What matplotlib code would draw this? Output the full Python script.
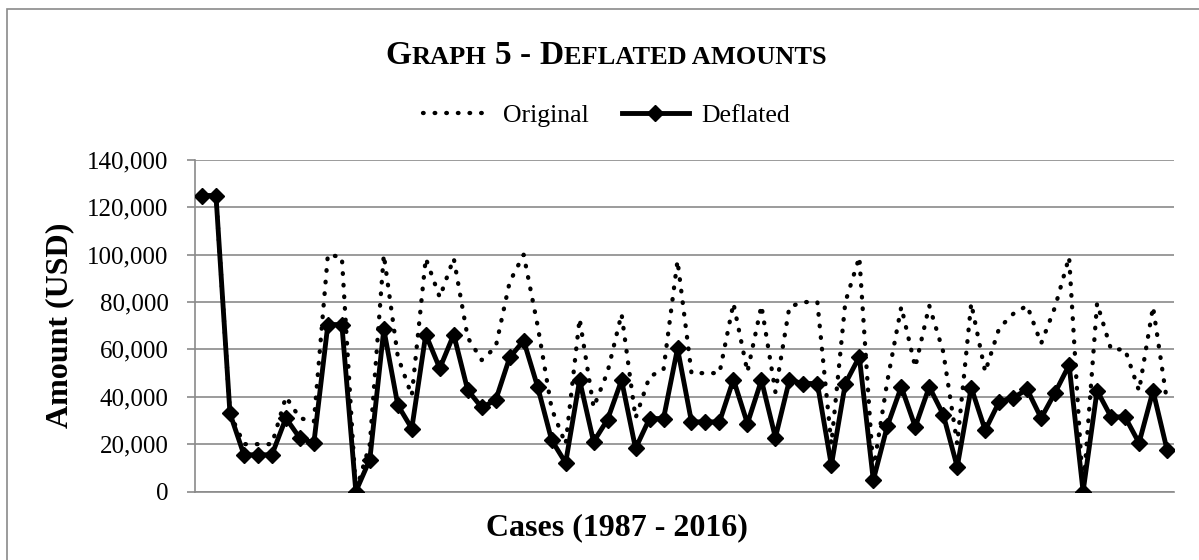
import matplotlib.pyplot as plt
from matplotlib.lines import Line2D
from matplotlib.patches import Rectangle
from matplotlib.ticker import FuncFormatter

# values (70 cases, 1987 - 2016)
original = [125000, 125000, 33000, 20000, 20000, 20000, 40000, 31000, 29500, 100000,
            99000, 0, 20000, 100000, 57000, 40500, 98500, 82000, 98500, 65000,
            55500, 61000, 88500, 100000, 70000, 35000, 20000, 73000, 35500, 50500,
            75000, 31000, 48500, 51500, 97500, 50000, 50000, 50000, 79500, 50500,
            78500, 42000, 78000, 80000, 80000, 20000, 80000, 99000, 9000, 46500,
            78000, 52500, 78500, 59000, 20000, 79500, 50500, 69000, 75000, 78500,
            62500, 78000, 99000, 0, 79500, 60000, 60000, 42500, 78000, 38000]

deflated = [125000, 125000, 33000, 15500, 15500, 15500, 31000, 22500, 20500, 70500,
            70500, 0, 13500, 68500, 36500, 26600, 66300, 52000, 66300, 42800,
            35500, 38600, 56600, 63700, 44200, 21700, 12100, 47000, 21000, 30400,
            47000, 18200, 30800, 30800, 60400, 29400, 29400, 29400, 47300, 28700,
            47000, 22800, 47000, 45600, 45600, 11100, 45600, 56900, 4800, 27600,
            44200, 27300, 44200, 32500, 10400, 43900, 25900, 37900, 39600, 43100,
            31000, 41800, 53400, 0, 42600, 31500, 31500, 20500, 42500, 17700]

y_ticks = [0, 20000, 40000, 60000, 80000, 100000, 120000, 140000]

W, H = 1199, 560
GRID = "#8a8a8a"
SERIF = "Liberation Serif"
DOTS = (0, (0.15, 2.55))

plt.rcParams["font.family"] = [SERIF, "DejaVu Serif"]

fig = plt.figure(figsize=(W / 100, H / 100), dpi=100)

# outer chart border (cut off at right and bottom in the reference)
fig.patches.append(Rectangle((7 / W, -0.05), 1.1, 1 - 9 / H + 0.05,
                             transform=fig.transFigure, fill=False,
                             edgecolor=GRID, linewidth=1.2))

left, right, top, bottom = 195, 1174, 160, 491.5
ax = fig.add_axes([left / W, 1 - bottom / H, (right - left) / W, (bottom - top) / H])

x = list(range(len(original)))

ax.plot(x, original, color="black", linewidth=3.1,
        linestyle=DOTS, dash_capstyle="round", zorder=3)
ax.plot(x, deflated, color="black", linewidth=3.5, marker="D",
        markersize=8, markeredgewidth=1, zorder=4)

ax.set_xlim(-0.5, len(original) - 0.5)
ax.set_ylim(0, 140000)
ax.set_yticks(y_ticks)
ax.yaxis.set_major_formatter(FuncFormatter(lambda v, p: f"{int(v):,}"))
ax.set_xticks([])

ax.grid(axis="y", color=GRID, linewidth=1.2)
ax.set_axisbelow(True)
for side in ["top", "right"]:
    ax.spines[side].set_visible(False)
for side in ["left", "bottom"]:
    ax.spines[side].set_color(GRID)
    ax.spines[side].set_linewidth(1.2)

ax.tick_params(axis="y", direction="out", length=6, width=1.2, color=GRID,
               pad=13, labelsize=18)

# axis titles
fig.text(60 / W, 1 - 325.5 / H, "Amount (USD)", rotation=90, ha="center",
         va="center", fontsize=23, fontweight="bold")
fig.text(616.7 / W, 1 - 535 / H, "Cases (1987 - 2016)", ha="center",
         va="baseline", fontsize=23, fontweight="bold")

# legend
handles = [
    Line2D([], [], color="black", linewidth=3.1, linestyle=DOTS,
           dash_capstyle="round"),
    Line2D([], [], color="black", linewidth=3.5, marker="D", markersize=8),
]
fig.legend(handles, ["Original", "Deflated"], loc="center",
           bbox_to_anchor=(606.5 / W, 1 - 116 / H), ncol=2, frameon=False,
           fontsize=18.5, handlelength=2.6, handletextpad=0.5,
           columnspacing=1.3, borderpad=0)

# title in small caps, built from pieces
big, small = 24, 19
space = big * 0.25 * 100 / 72
pieces = [("G", big, 0), ("RAPH", small, 0), ("5", big, space), ("-", big, space),
          ("D", big, space), ("EFLATED AMOUNTS", small, 0)]
base_y = 1 - 64 / H
texts = [fig.text(0, base_y, s, fontsize=sz, fontweight="bold", va="baseline",
                  ha="left") for s, sz, g in pieces]
fig.canvas.draw()
renderer = fig.canvas.get_renderer()
widths = [t.get_window_extent(renderer).width for t in texts]
total = sum(widths) + sum(g for s, sz, g in pieces)
cur = 606 - total / 2
for t, w, (s, sz, g) in zip(texts, widths, pieces):
    cur += g
    t.set_x(cur / W)
    cur += w

fig.savefig("out.png", dpi=100)
